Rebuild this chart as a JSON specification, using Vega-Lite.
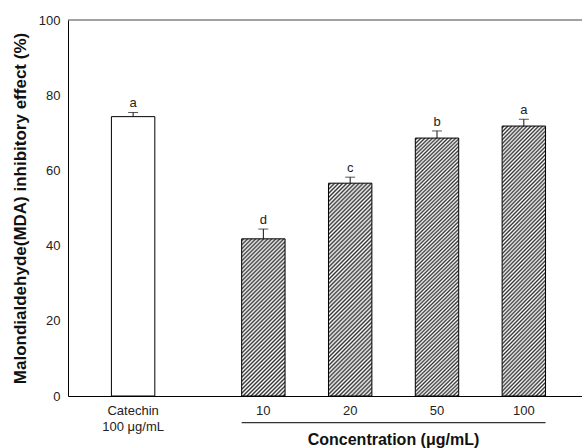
{
  "$schema": "https://vega.github.io/schema/vega-lite/v6.json",
  "width": 514,
  "height": 376,
  "autosize": {"type": "none"},
  "padding": {"left": 68, "top": 20, "right": 0, "bottom": 52},
  "background": "#ffffff",
  "config": {
    "view": {"stroke": null},
    "font": "Liberation Sans",
    "text": {"font": "Liberation Sans"}
  },
  "data": {
    "values": [
      {"group": "Catechin", "value": 74.3, "upper": 75.4, "letter": "a"},
      {"group": "10", "value": 41.8, "upper": 44.4, "letter": "d"},
      {"group": "20", "value": 56.6, "upper": 58.2, "letter": "c"},
      {"group": "50", "value": 68.6, "upper": 70.5, "letter": "b"},
      {"group": "100", "value": 71.8, "upper": 73.6, "letter": "a"}
    ]
  },
  "layer": [
    {
      "transform": [{"filter": "datum.group === 'Catechin'"}],
      "mark": {"type": "bar", "fill": "#ffffff", "stroke": "#000000", "strokeWidth": 1},
      "encoding": {
        "x": {
          "field": "group",
          "type": "nominal",
          "sort": null,
          "scale": {
            "domain": ["gap0", "Catechin", "gap2", "gap3", "10", "gap5", "20", "gap7", "50", "gap9", "100"],
            "paddingInner": 0,
            "paddingOuter": 0.42,
            "align": 0
          },
          "axis": {
            "values": ["Catechin", "10", "20", "50", "100"],
            "ticks": false,
            "tickSize": 0,
            "domainColor": "#000000",
            "domainWidth": 1,
            "labelAngle": 0,
            "labelFontSize": 13,
            "labelColor": "#222222",
            "labelPadding": 8,
            "labelLineHeight": 16,
            "labelBound": false,
            "labelOverlap": false,
            "labelFlush": false,
            "labelExpr": "datum.value === 'Catechin' ? ['Catechin', '100 μg/mL'] : datum.value",
            "title": "Concentration (μg/mL)",
            "titleFontSize": 16,
            "titleFontWeight": "bold",
            "titleColor": "#111111",
            "titleX": 325,
            "titleY": 48,
            "titleAlign": "center",
            "titleBaseline": "alphabetic"
          }
        },
        "y": {
          "field": "value",
          "type": "quantitative",
          "scale": {"domain": [0, 100], "nice": false},
          "axis": {
            "values": [0, 20, 40, 60, 80, 100],
            "ticks": false,
            "tickSize": 0,
            "grid": false,
            "domainColor": "#000000",
            "domainWidth": 1,
            "labelFontSize": 13,
            "labelColor": "#222222",
            "labelPadding": 8,
            "title": "Malondialdehyde(MDA) inhibitory effect (%)",
            "titleFontSize": 17,
            "titleFontWeight": "bold",
            "titleColor": "#111111",
            "titleX": -43,
            "titleY": 188,
            "titleAlign": "center",
            "titleBaseline": "alphabetic"
          }
        }
      }
    },
    {
      "transform": [{"filter": "datum.group === '10'"}],
      "mark": {
        "type": "bar",
        "stroke": "#000000",
        "strokeWidth": 1,
        "fill": {
          "gradient": "linear", "x1": 0, "y1": 0, "x2": 0.327, "y2": 1.186,
          "stops": [
            {"offset":0,"color":"#fff"},{"offset":0.01,"color":"#333"},{"offset":0.02,"color":"#fff"},{"offset":0.03,"color":"#333"},{"offset":0.04,"color":"#fff"},{"offset":0.05,"color":"#333"},{"offset":0.06,"color":"#fff"},{"offset":0.07,"color":"#333"},{"offset":0.08,"color":"#fff"},{"offset":0.09,"color":"#333"},
            {"offset":0.1,"color":"#fff"},{"offset":0.11,"color":"#333"},{"offset":0.12,"color":"#fff"},{"offset":0.13,"color":"#333"},{"offset":0.14,"color":"#fff"},{"offset":0.15,"color":"#333"},{"offset":0.16,"color":"#fff"},{"offset":0.17,"color":"#333"},{"offset":0.18,"color":"#fff"},{"offset":0.19,"color":"#333"},
            {"offset":0.2,"color":"#fff"},{"offset":0.21,"color":"#333"},{"offset":0.22,"color":"#fff"},{"offset":0.23,"color":"#333"},{"offset":0.24,"color":"#fff"},{"offset":0.25,"color":"#333"},{"offset":0.26,"color":"#fff"},{"offset":0.27,"color":"#333"},{"offset":0.28,"color":"#fff"},{"offset":0.29,"color":"#333"},
            {"offset":0.3,"color":"#fff"},{"offset":0.31,"color":"#333"},{"offset":0.32,"color":"#fff"},{"offset":0.33,"color":"#333"},{"offset":0.34,"color":"#fff"},{"offset":0.35,"color":"#333"},{"offset":0.36,"color":"#fff"},{"offset":0.37,"color":"#333"},{"offset":0.38,"color":"#fff"},{"offset":0.39,"color":"#333"},
            {"offset":0.4,"color":"#fff"},{"offset":0.41,"color":"#333"},{"offset":0.42,"color":"#fff"},{"offset":0.43,"color":"#333"},{"offset":0.44,"color":"#fff"},{"offset":0.45,"color":"#333"},{"offset":0.46,"color":"#fff"},{"offset":0.47,"color":"#333"},{"offset":0.48,"color":"#fff"},{"offset":0.49,"color":"#333"},
            {"offset":0.5,"color":"#fff"},{"offset":0.51,"color":"#333"},{"offset":0.52,"color":"#fff"},{"offset":0.53,"color":"#333"},{"offset":0.54,"color":"#fff"},{"offset":0.55,"color":"#333"},{"offset":0.56,"color":"#fff"},{"offset":0.57,"color":"#333"},{"offset":0.58,"color":"#fff"},{"offset":0.59,"color":"#333"},
            {"offset":0.6,"color":"#fff"},{"offset":0.61,"color":"#333"},{"offset":0.62,"color":"#fff"},{"offset":0.63,"color":"#333"},{"offset":0.64,"color":"#fff"},{"offset":0.65,"color":"#333"},{"offset":0.66,"color":"#fff"},{"offset":0.67,"color":"#333"},{"offset":0.68,"color":"#fff"},{"offset":0.69,"color":"#333"},
            {"offset":0.7,"color":"#fff"},{"offset":0.71,"color":"#333"},{"offset":0.72,"color":"#fff"},{"offset":0.73,"color":"#333"},{"offset":0.74,"color":"#fff"},{"offset":0.75,"color":"#333"},{"offset":0.76,"color":"#fff"},{"offset":0.77,"color":"#333"},{"offset":0.78,"color":"#fff"},{"offset":0.79,"color":"#333"},
            {"offset":0.8,"color":"#fff"},{"offset":0.81,"color":"#333"},{"offset":0.82,"color":"#fff"},{"offset":0.83,"color":"#333"},{"offset":0.84,"color":"#fff"},{"offset":0.85,"color":"#333"},{"offset":0.86,"color":"#fff"},{"offset":0.87,"color":"#333"},{"offset":0.88,"color":"#fff"},{"offset":0.89,"color":"#333"},
            {"offset":0.9,"color":"#fff"},{"offset":0.91,"color":"#333"},{"offset":0.92,"color":"#fff"},{"offset":0.93,"color":"#333"},{"offset":0.94,"color":"#fff"},{"offset":0.95,"color":"#333"},{"offset":0.96,"color":"#fff"},{"offset":0.97,"color":"#333"},{"offset":0.98,"color":"#fff"},{"offset":0.99,"color":"#333"},
            {"offset":1,"color":"#fff"}
          ]
        }
      },
      "encoding": {
        "x": {"field": "group", "type": "nominal"},
        "y": {"field": "value", "type": "quantitative"}
      }
    },
    {
      "transform": [{"filter": "datum.group === '20'"}],
      "mark": {
        "type": "bar",
        "stroke": "#000000",
        "strokeWidth": 1,
        "fill": {
          "gradient": "linear", "x1": 0, "y1": 0, "x2": 0.236, "y2": 1.156,
          "stops": [
            {"offset":0,"color":"#fff"},{"offset":0.008,"color":"#333"},{"offset":0.016,"color":"#fff"},{"offset":0.024,"color":"#333"},{"offset":0.032,"color":"#fff"},{"offset":0.04,"color":"#333"},{"offset":0.048,"color":"#fff"},{"offset":0.056,"color":"#333"},{"offset":0.064,"color":"#fff"},{"offset":0.072,"color":"#333"},
            {"offset":0.08,"color":"#fff"},{"offset":0.088,"color":"#333"},{"offset":0.096,"color":"#fff"},{"offset":0.104,"color":"#333"},{"offset":0.112,"color":"#fff"},{"offset":0.12,"color":"#333"},{"offset":0.128,"color":"#fff"},{"offset":0.136,"color":"#333"},{"offset":0.144,"color":"#fff"},{"offset":0.152,"color":"#333"},
            {"offset":0.16,"color":"#fff"},{"offset":0.168,"color":"#333"},{"offset":0.176,"color":"#fff"},{"offset":0.184,"color":"#333"},{"offset":0.192,"color":"#fff"},{"offset":0.2,"color":"#333"},{"offset":0.208,"color":"#fff"},{"offset":0.216,"color":"#333"},{"offset":0.224,"color":"#fff"},{"offset":0.232,"color":"#333"},
            {"offset":0.24,"color":"#fff"},{"offset":0.248,"color":"#333"},{"offset":0.256,"color":"#fff"},{"offset":0.264,"color":"#333"},{"offset":0.272,"color":"#fff"},{"offset":0.28,"color":"#333"},{"offset":0.288,"color":"#fff"},{"offset":0.296,"color":"#333"},{"offset":0.304,"color":"#fff"},{"offset":0.312,"color":"#333"},
            {"offset":0.32,"color":"#fff"},{"offset":0.328,"color":"#333"},{"offset":0.336,"color":"#fff"},{"offset":0.344,"color":"#333"},{"offset":0.352,"color":"#fff"},{"offset":0.36,"color":"#333"},{"offset":0.368,"color":"#fff"},{"offset":0.376,"color":"#333"},{"offset":0.384,"color":"#fff"},{"offset":0.392,"color":"#333"},
            {"offset":0.4,"color":"#fff"},{"offset":0.408,"color":"#333"},{"offset":0.416,"color":"#fff"},{"offset":0.424,"color":"#333"},{"offset":0.432,"color":"#fff"},{"offset":0.44,"color":"#333"},{"offset":0.448,"color":"#fff"},{"offset":0.456,"color":"#333"},{"offset":0.464,"color":"#fff"},{"offset":0.472,"color":"#333"},
            {"offset":0.48,"color":"#fff"},{"offset":0.488,"color":"#333"},{"offset":0.496,"color":"#fff"},{"offset":0.504,"color":"#333"},{"offset":0.512,"color":"#fff"},{"offset":0.52,"color":"#333"},{"offset":0.528,"color":"#fff"},{"offset":0.536,"color":"#333"},{"offset":0.544,"color":"#fff"},{"offset":0.552,"color":"#333"},
            {"offset":0.56,"color":"#fff"},{"offset":0.568,"color":"#333"},{"offset":0.576,"color":"#fff"},{"offset":0.584,"color":"#333"},{"offset":0.592,"color":"#fff"},{"offset":0.6,"color":"#333"},{"offset":0.608,"color":"#fff"},{"offset":0.616,"color":"#333"},{"offset":0.624,"color":"#fff"},{"offset":0.632,"color":"#333"},
            {"offset":0.64,"color":"#fff"},{"offset":0.648,"color":"#333"},{"offset":0.656,"color":"#fff"},{"offset":0.664,"color":"#333"},{"offset":0.672,"color":"#fff"},{"offset":0.68,"color":"#333"},{"offset":0.688,"color":"#fff"},{"offset":0.696,"color":"#333"},{"offset":0.704,"color":"#fff"},{"offset":0.712,"color":"#333"},
            {"offset":0.72,"color":"#fff"},{"offset":0.728,"color":"#333"},{"offset":0.736,"color":"#fff"},{"offset":0.744,"color":"#333"},{"offset":0.752,"color":"#fff"},{"offset":0.76,"color":"#333"},{"offset":0.768,"color":"#fff"},{"offset":0.776,"color":"#333"},{"offset":0.784,"color":"#fff"},{"offset":0.792,"color":"#333"},
            {"offset":0.8,"color":"#fff"},{"offset":0.808,"color":"#333"},{"offset":0.816,"color":"#fff"},{"offset":0.824,"color":"#333"},{"offset":0.832,"color":"#fff"},{"offset":0.84,"color":"#333"},{"offset":0.848,"color":"#fff"},{"offset":0.856,"color":"#333"},{"offset":0.864,"color":"#fff"},{"offset":0.872,"color":"#333"},
            {"offset":0.88,"color":"#fff"},{"offset":0.888,"color":"#333"},{"offset":0.896,"color":"#fff"},{"offset":0.904,"color":"#333"},{"offset":0.912,"color":"#fff"},{"offset":0.92,"color":"#333"},{"offset":0.928,"color":"#fff"},{"offset":0.936,"color":"#333"},{"offset":0.944,"color":"#fff"},{"offset":0.952,"color":"#333"},
            {"offset":0.96,"color":"#fff"},{"offset":0.968,"color":"#333"},{"offset":0.976,"color":"#fff"},{"offset":0.984,"color":"#333"},{"offset":0.992,"color":"#fff"},{"offset":1,"color":"#333"}
          ]
        }
      },
      "encoding": {
        "x": {"field": "group", "type": "nominal"},
        "y": {"field": "value", "type": "quantitative"}
      }
    },
    {
      "transform": [{"filter": "datum.group === '50' || datum.group === '100'"}],
      "mark": {
        "type": "bar",
        "stroke": "#000000",
        "strokeWidth": 1,
        "fill": {
          "gradient": "linear", "x1": 0, "y1": 0, "x2": 0.186, "y2": 1.134,
          "stops": [
            {"offset":0,"color":"#fff"},{"offset":0.00625,"color":"#333"},{"offset":0.0125,"color":"#fff"},{"offset":0.01875,"color":"#333"},{"offset":0.025,"color":"#fff"},{"offset":0.03125,"color":"#333"},{"offset":0.0375,"color":"#fff"},{"offset":0.04375,"color":"#333"},{"offset":0.05,"color":"#fff"},{"offset":0.05625,"color":"#333"},{"offset":0.0625,"color":"#fff"},{"offset":0.06875,"color":"#333"},{"offset":0.075,"color":"#fff"},{"offset":0.08125,"color":"#333"},{"offset":0.0875,"color":"#fff"},{"offset":0.09375,"color":"#333"},
            {"offset":0.1,"color":"#fff"},{"offset":0.10625,"color":"#333"},{"offset":0.1125,"color":"#fff"},{"offset":0.11875,"color":"#333"},{"offset":0.125,"color":"#fff"},{"offset":0.13125,"color":"#333"},{"offset":0.1375,"color":"#fff"},{"offset":0.14375,"color":"#333"},{"offset":0.15,"color":"#fff"},{"offset":0.15625,"color":"#333"},{"offset":0.1625,"color":"#fff"},{"offset":0.16875,"color":"#333"},{"offset":0.175,"color":"#fff"},{"offset":0.18125,"color":"#333"},{"offset":0.1875,"color":"#fff"},{"offset":0.19375,"color":"#333"},
            {"offset":0.2,"color":"#fff"},{"offset":0.20625,"color":"#333"},{"offset":0.2125,"color":"#fff"},{"offset":0.21875,"color":"#333"},{"offset":0.225,"color":"#fff"},{"offset":0.23125,"color":"#333"},{"offset":0.2375,"color":"#fff"},{"offset":0.24375,"color":"#333"},{"offset":0.25,"color":"#fff"},{"offset":0.25625,"color":"#333"},{"offset":0.2625,"color":"#fff"},{"offset":0.26875,"color":"#333"},{"offset":0.275,"color":"#fff"},{"offset":0.28125,"color":"#333"},{"offset":0.2875,"color":"#fff"},{"offset":0.29375,"color":"#333"},
            {"offset":0.3,"color":"#fff"},{"offset":0.30625,"color":"#333"},{"offset":0.3125,"color":"#fff"},{"offset":0.31875,"color":"#333"},{"offset":0.325,"color":"#fff"},{"offset":0.33125,"color":"#333"},{"offset":0.3375,"color":"#fff"},{"offset":0.34375,"color":"#333"},{"offset":0.35,"color":"#fff"},{"offset":0.35625,"color":"#333"},{"offset":0.3625,"color":"#fff"},{"offset":0.36875,"color":"#333"},{"offset":0.375,"color":"#fff"},{"offset":0.38125,"color":"#333"},{"offset":0.3875,"color":"#fff"},{"offset":0.39375,"color":"#333"},
            {"offset":0.4,"color":"#fff"},{"offset":0.40625,"color":"#333"},{"offset":0.4125,"color":"#fff"},{"offset":0.41875,"color":"#333"},{"offset":0.425,"color":"#fff"},{"offset":0.43125,"color":"#333"},{"offset":0.4375,"color":"#fff"},{"offset":0.44375,"color":"#333"},{"offset":0.45,"color":"#fff"},{"offset":0.45625,"color":"#333"},{"offset":0.4625,"color":"#fff"},{"offset":0.46875,"color":"#333"},{"offset":0.475,"color":"#fff"},{"offset":0.48125,"color":"#333"},{"offset":0.4875,"color":"#fff"},{"offset":0.49375,"color":"#333"},
            {"offset":0.5,"color":"#fff"},{"offset":0.50625,"color":"#333"},{"offset":0.5125,"color":"#fff"},{"offset":0.51875,"color":"#333"},{"offset":0.525,"color":"#fff"},{"offset":0.53125,"color":"#333"},{"offset":0.5375,"color":"#fff"},{"offset":0.54375,"color":"#333"},{"offset":0.55,"color":"#fff"},{"offset":0.55625,"color":"#333"},{"offset":0.5625,"color":"#fff"},{"offset":0.56875,"color":"#333"},{"offset":0.575,"color":"#fff"},{"offset":0.58125,"color":"#333"},{"offset":0.5875,"color":"#fff"},{"offset":0.59375,"color":"#333"},
            {"offset":0.6,"color":"#fff"},{"offset":0.60625,"color":"#333"},{"offset":0.6125,"color":"#fff"},{"offset":0.61875,"color":"#333"},{"offset":0.625,"color":"#fff"},{"offset":0.63125,"color":"#333"},{"offset":0.6375,"color":"#fff"},{"offset":0.64375,"color":"#333"},{"offset":0.65,"color":"#fff"},{"offset":0.65625,"color":"#333"},{"offset":0.6625,"color":"#fff"},{"offset":0.66875,"color":"#333"},{"offset":0.675,"color":"#fff"},{"offset":0.68125,"color":"#333"},{"offset":0.6875,"color":"#fff"},{"offset":0.69375,"color":"#333"},
            {"offset":0.7,"color":"#fff"},{"offset":0.70625,"color":"#333"},{"offset":0.7125,"color":"#fff"},{"offset":0.71875,"color":"#333"},{"offset":0.725,"color":"#fff"},{"offset":0.73125,"color":"#333"},{"offset":0.7375,"color":"#fff"},{"offset":0.74375,"color":"#333"},{"offset":0.75,"color":"#fff"},{"offset":0.75625,"color":"#333"},{"offset":0.7625,"color":"#fff"},{"offset":0.76875,"color":"#333"},{"offset":0.775,"color":"#fff"},{"offset":0.78125,"color":"#333"},{"offset":0.7875,"color":"#fff"},{"offset":0.79375,"color":"#333"},
            {"offset":0.8,"color":"#fff"},{"offset":0.80625,"color":"#333"},{"offset":0.8125,"color":"#fff"},{"offset":0.81875,"color":"#333"},{"offset":0.825,"color":"#fff"},{"offset":0.83125,"color":"#333"},{"offset":0.8375,"color":"#fff"},{"offset":0.84375,"color":"#333"},{"offset":0.85,"color":"#fff"},{"offset":0.85625,"color":"#333"},{"offset":0.8625,"color":"#fff"},{"offset":0.86875,"color":"#333"},{"offset":0.875,"color":"#fff"},{"offset":0.88125,"color":"#333"},{"offset":0.8875,"color":"#fff"},{"offset":0.89375,"color":"#333"},
            {"offset":0.9,"color":"#fff"},{"offset":0.90625,"color":"#333"},{"offset":0.9125,"color":"#fff"},{"offset":0.91875,"color":"#333"},{"offset":0.925,"color":"#fff"},{"offset":0.93125,"color":"#333"},{"offset":0.9375,"color":"#fff"},{"offset":0.94375,"color":"#333"},{"offset":0.95,"color":"#fff"},{"offset":0.95625,"color":"#333"},{"offset":0.9625,"color":"#fff"},{"offset":0.96875,"color":"#333"},{"offset":0.975,"color":"#fff"},{"offset":0.98125,"color":"#333"},{"offset":0.9875,"color":"#fff"},{"offset":0.99375,"color":"#333"},
            {"offset":1,"color":"#fff"}
          ]
        }
      },
      "encoding": {
        "x": {"field": "group", "type": "nominal"},
        "y": {"field": "value", "type": "quantitative"}
      }
    },
    {
      "mark": {"type": "rule", "color": "#111111", "strokeWidth": 1},
      "encoding": {
        "x": {"field": "group", "type": "nominal"},
        "y": {"field": "value", "type": "quantitative"},
        "y2": {"field": "upper"}
      }
    },
    {
      "mark": {"type": "tick", "color": "#111111", "size": 10, "thickness": 1},
      "encoding": {
        "x": {"field": "group", "type": "nominal"},
        "y": {"field": "upper", "type": "quantitative"}
      }
    },
    {
      "mark": {"type": "text", "fontSize": 13, "color": "#222222", "align": "center", "baseline": "alphabetic", "dy": -5},
      "encoding": {
        "x": {"field": "group", "type": "nominal"},
        "y": {"field": "upper", "type": "quantitative"},
        "text": {"field": "letter"}
      }
    },
    {
      "data": {"values": [{}]},
      "mark": {"type": "rule", "color": "#444444", "strokeWidth": 1},
      "encoding": {
        "y": {"datum": 100, "type": "quantitative"}
      }
    },
    {
      "data": {"values": [{}]},
      "mark": {"type": "rule", "color": "#333333", "strokeWidth": 1.2},
      "encoding": {
        "x": {"datum": "10", "type": "nominal", "bandPosition": 0},
        "x2": {"datum": "100", "bandPosition": 1},
        "y": {"datum": -7.1, "type": "quantitative"}
      }
    }
  ]
}
